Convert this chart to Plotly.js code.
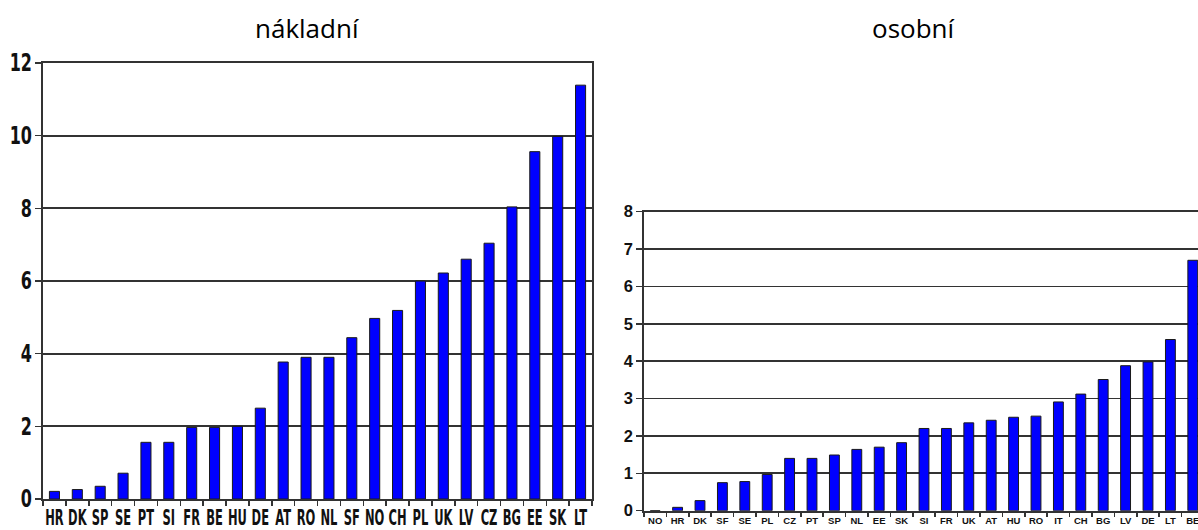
<!DOCTYPE html>
<html>
<head>
<meta charset="utf-8">
<script src="https://cdn.plot.ly/plotly-3.0.1.min.js"></script>
<style>
  html, body { margin: 0; padding: 0; background: #fff; }
  #chart { width: 1198px; height: 530px; }
</style>
</head>
<body>
<div id="chart"></div>
<script>
// nákladní (freight)
const freightCats = ["HR","DK","SP","SE","PT","SI","FR","BE","HU","DE","AT","RO","NL","SF","NO","CH","PL","UK","LV","CZ","BG","EE","SK","LT"];
const freightVals = [0.21, 0.26, 0.35, 0.71, 1.56, 1.56, 1.97, 1.97, 2.0, 2.5, 3.77, 3.9, 3.9, 4.44, 4.97, 5.19, 6.0, 6.22, 6.6, 7.04, 8.04, 9.56, 9.98, 11.39];
// osobní (passenger)
const passCats = ["NO","HR","DK","SF","SE","PL","CZ","PT","SP","NL","EE","SK","SI","FR","UK","AT","HU","RO","IT","CH","BG","LV","DE","LT","BE"];
const passVals = [0, 0.09, 0.27, 0.75, 0.78, 0.97, 1.4, 1.4, 1.49, 1.64, 1.7, 1.82, 2.2, 2.2, 2.35, 2.42, 2.5, 2.53, 2.91, 3.12, 3.51, 3.88, 3.98, 4.58, 6.7];
const freightTicks = [0, 2, 4, 6, 8, 10, 12];
const passTicks = [0, 1, 2, 3, 4, 5, 6, 7, 8];
const titles = ["nákladní", "osobní"];

const W = 1198, H = 530;
const px = v => v / W;
const py = v => (H - v) / H;

const barStyle = {
  type: 'bar',
  marker: { color: '#0000FF', line: { color: '#1a1a1a', width: 1 } },
  hoverinfo: 'x+y',
  showlegend: false
};

const traces = [
  Object.assign({}, barStyle, { x: freightCats, y: freightVals, xaxis: 'x', yaxis: 'y' }),
  Object.assign({}, barStyle, { x: passCats, y: passVals, xaxis: 'x2', yaxis: 'y2' })
];

const cond = { family: "DejaVu Sans, sans-serif", stretch: 'condensed', weight: 'bold', color: '#111' };
const arial = "Liberation Sans, Arial, sans-serif";
const lineCol = '#333333';

const layout = {
  width: W, height: H,
  margin: { l: 0, r: 0, t: 0, b: 0 },
  paper_bgcolor: '#fff', plot_bgcolor: '#fff',
  bargap: 0.56,
  xaxis: {
    domain: [px(43), px(592)],
    type: 'category',
    range: [-0.5, freightCats.length - 0.5],
    showline: true, mirror: true, linecolor: lineCol, linewidth: 1.8,
    ticks: 'outside', tickson: 'boundaries', ticklen: 5, tickcolor: lineCol, tickwidth: 1.5,
    tickangle: 0,
    tickfont: Object.assign({}, cond, { size: 11.5 }),
    showgrid: false, zeroline: false, automargin: false, fixedrange: true
  },
  yaxis: {
    domain: [py(499), py(63)],
    range: [0, 12],
    tickvals: freightTicks,
    showline: true, mirror: true, linecolor: lineCol, linewidth: 1.8,
    ticks: 'outside', ticklen: 6, tickcolor: lineCol, tickwidth: 1.5,
    showgrid: true, gridcolor: lineCol, gridwidth: 1.8,
    tickfont: Object.assign({}, cond, { size: 16 }),
    zeroline: false, automargin: false, fixedrange: true
  },
  xaxis2: {
    domain: [px(644), 1],
    type: 'category',
    range: [-0.5, -0.5 + (W - 644) / 22.4],
    showline: true, mirror: true, linecolor: lineCol, linewidth: 1.8,
    ticks: 'outside', tickson: 'boundaries', ticklen: 4, tickcolor: lineCol, tickwidth: 1.5,
    tickangle: 0,
    tickfont: { family: arial, size: 9.5, color: '#111', weight: 'bold' },
    showgrid: false, zeroline: false, automargin: false, fixedrange: true,
    anchor: 'y2'
  },
  yaxis2: {
    domain: [py(510.7), py(211.7)],
    range: [0, 8],
    tickvals: passTicks,
    showline: true, linecolor: lineCol, linewidth: 1.8,
    ticks: 'outside', ticklen: 6, tickcolor: lineCol, tickwidth: 1.5,
    showgrid: true, gridcolor: lineCol, gridwidth: 1.8,
    tickfont: { family: arial, size: 16.5, color: '#111', weight: 'bold' },
    zeroline: false, automargin: false, fixedrange: true,
    anchor: 'x2'
  },
  annotations: [
    { text: titles[0], xref: 'paper', yref: 'paper', x: px(307.5), y: py(28), xanchor: 'center', yanchor: 'middle',
      showarrow: false, font: { family: 'Open Sans, Noto Sans, sans-serif', size: 26, color: '#000' } },
    { text: titles[1], xref: 'paper', yref: 'paper', x: px(914), y: py(28), xanchor: 'center', yanchor: 'middle',
      showarrow: false, font: { family: 'Open Sans, Noto Sans, sans-serif', size: 26, color: '#000' } }
  ]
};

// stretch / shift tick label text around its own centre (keeps it as real text)
function stretch(sel, sx, sy, dx, dy) {
  document.querySelectorAll(sel).forEach(t => {
    const b = t.getBBox();
    const cx = b.x + b.width / 2, cy = b.y + b.height / 2;
    const base = t.getAttribute('transform') || '';
    t.setAttribute('transform', base + ` translate(${dx},${dy}) translate(${cx},${cy}) scale(${sx},${sy}) translate(${-cx},${-cy})`);
  });
}

Plotly.newPlot('chart', traces, layout, { staticPlot: true, displayModeBar: false }).then(() => {
  stretch('.subplot.xy .xaxislayer-above .xtick text', 1, 1.8, 0, 7);
  stretch('.subplot.xy .yaxislayer-above .ytick text', 1, 1.5, 0, 0);
  stretch('.subplot.x2y2 .xaxislayer-above .xtick text', 1, 1, 0, 5);
  stretch('.subplot.x2y2 .yaxislayer-above .ytick text', 1.2, 1, -4, 0);
});
</script>
</body>
</html>
